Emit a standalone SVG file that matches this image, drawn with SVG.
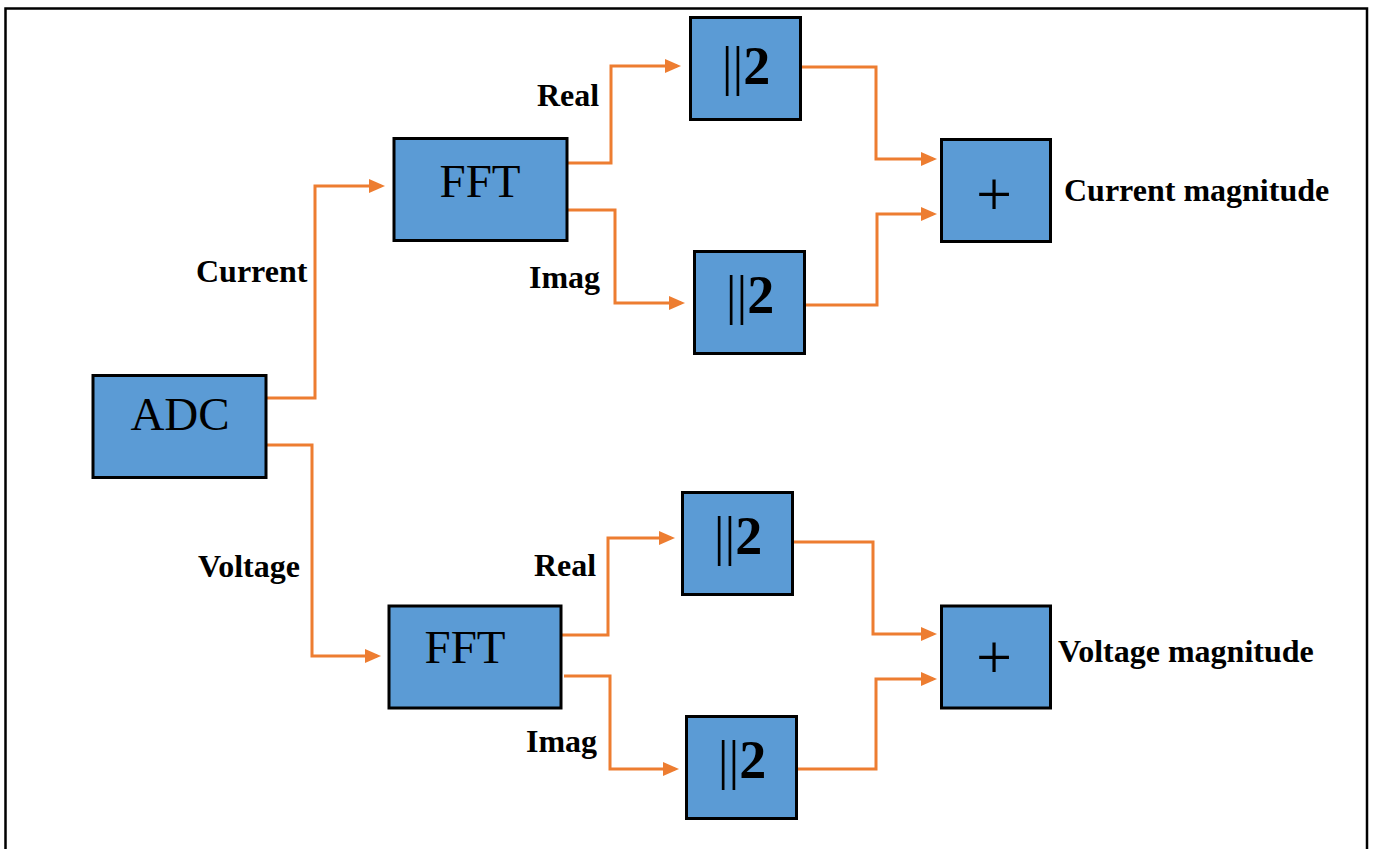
<svg xmlns="http://www.w3.org/2000/svg" width="1376" height="849" viewBox="0 0 1376 849">
<defs>
<style>
.box{fill:#5B9BD5;stroke:#000;stroke-width:3}
.wire{fill:none;stroke:#ED7D31;stroke-width:3;marker-end:url(#arr)}
.big{font-family:"Liberation Serif","Times New Roman",serif;font-size:47px;fill:#000;text-anchor:middle}
.sq{font-family:"Liberation Serif","Times New Roman",serif;font-size:54px;fill:#000;text-anchor:middle}
.plus{font-family:"Liberation Serif","Times New Roman",serif;font-size:64px;fill:#000;text-anchor:middle}
.lbl{font-family:"Liberation Serif","Times New Roman",serif;font-size:32px;font-weight:bold;fill:#000}
</style>
<marker id="arr" markerUnits="userSpaceOnUse" markerWidth="16" markerHeight="14" refX="12" refY="7" orient="auto">
<path d="M0,0 L16,7 L0,14 z" fill="#ED7D31"/>
</marker>
</defs>
<rect x="0" y="0" width="1376" height="849" fill="#fff"/>
<rect x="5.5" y="8.5" width="1361.5" height="860" fill="none" stroke="#000" stroke-width="2.5"/>

<g id="connectors">
<path class="wire" d="M266,398 H315 V186 H381"/>
<path class="wire" d="M266,445 H312 V656 H377"/>
<path class="wire" d="M567,163 H611 V66 H677"/>
<path class="wire" d="M567,210 H615 V303 H681"/>
<path class="wire" d="M800,67 H876 V159 H933"/>
<path class="wire" d="M804,305 H877 V214 H933"/>
<path class="wire" d="M561,635 H608 V538 H671"/>
<path class="wire" d="M564,676 H610 V769 H675"/>
<path class="wire" d="M792,542 H873 V634 H933"/>
<path class="wire" d="M796,769 H876 V679 H933"/>
</g>

<g id="adc"><rect class="box" x="93" y="375.5" width="173" height="102"/><text class="big" x="180" y="430">ADC</text></g>
<g id="fft-current"><rect class="box" x="394" y="138.5" width="173" height="102"/><text class="big" x="480" y="197">FFT</text></g>
<g id="fft-voltage"><rect class="box" x="389" y="606" width="172" height="102"/><text class="big" x="465" y="663">FFT</text></g>
<g id="sq-current-real"><rect class="box" x="690.5" y="17.5" width="110" height="102"/><text class="sq" x="746" y="84">||<tspan font-weight="bold">2</tspan></text></g>
<g id="sq-current-imag"><rect class="box" x="694.5" y="251.5" width="110" height="102"/><text class="sq" x="750" y="313">||<tspan font-weight="bold">2</tspan></text></g>
<g id="sq-voltage-real"><rect class="box" x="682.5" y="492.5" width="110" height="102"/><text class="sq" x="738" y="554">||<tspan font-weight="bold">2</tspan></text></g>
<g id="sq-voltage-imag"><rect class="box" x="686.5" y="716.5" width="110" height="102"/><text class="sq" x="742" y="778">||<tspan font-weight="bold">2</tspan></text></g>
<g id="sum-current"><rect class="box" x="941.5" y="139.5" width="109" height="102"/><text class="plus" x="994" y="216">+</text></g>
<g id="sum-voltage"><rect class="box" x="941.5" y="606" width="109" height="102"/><text class="plus" x="994" y="679">+</text></g>

<g id="labels">
<text class="lbl" x="196" y="282">Current</text>
<text class="lbl" x="198" y="577">Voltage</text>
<text class="lbl" x="537" y="106">Real</text>
<text class="lbl" x="529" y="288">Imag</text>
<text class="lbl" x="534" y="576">Real</text>
<text class="lbl" x="526" y="752">Imag</text>
<text class="lbl" x="1064" y="201">Current magnitude</text>
<text class="lbl" x="1058" y="662">Voltage magnitude</text>
</g>
</svg>
